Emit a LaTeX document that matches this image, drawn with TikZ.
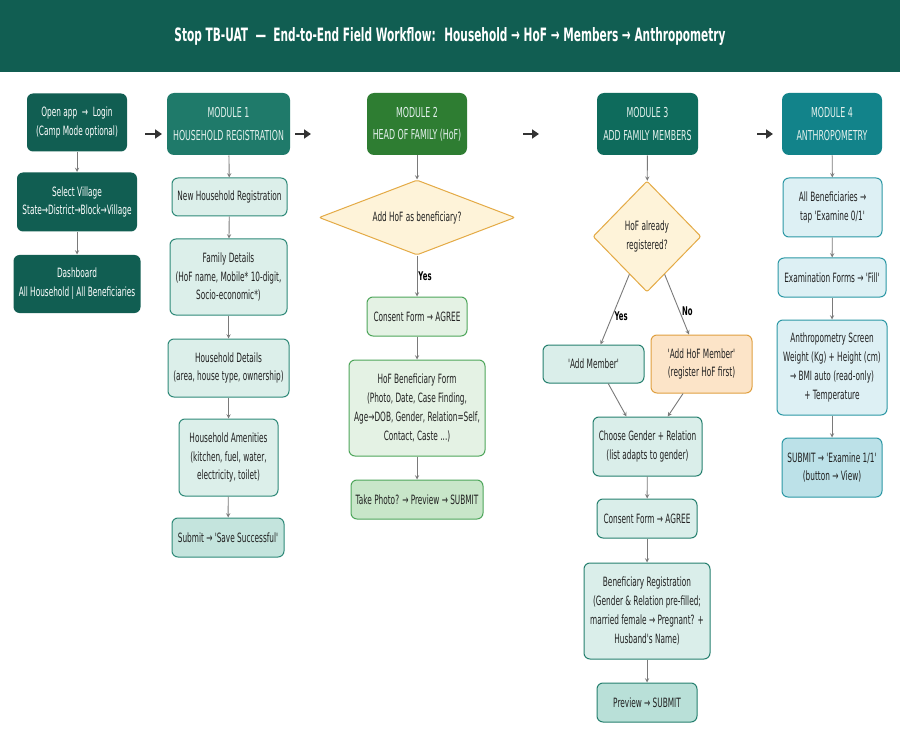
\documentclass[tikz,border=0pt]{standalone}
\usepackage{fontspec}
\newfontfamily\flowfont{DejaVu Sans}[FakeStretch=0.575]
\usetikzlibrary{shapes.geometric}
\usetikzlibrary{arrows.meta}

\definecolor{titlebg}{HTML}{115E52}
\definecolor{m1col}{HTML}{1F7A6A}
\definecolor{m2col}{HTML}{2E7D32}
\definecolor{m3col}{HTML}{0E6B5C}
\definecolor{m4col}{HTML}{12838A}
\definecolor{m1fill}{HTML}{DCEFEA}
\definecolor{m1line}{HTML}{2F8A79}
\definecolor{m1end}{HTML}{C4E4DD}
\definecolor{m2fill}{HTML}{E4F2E4}
\definecolor{m2line}{HTML}{4EA65B}
\definecolor{m2end}{HTML}{C8E6C9}
\definecolor{m3fill}{HTML}{DAEEEA}
\definecolor{m3line}{HTML}{26806F}
\definecolor{m3end}{HTML}{B9E0D8}
\definecolor{peachfill}{HTML}{FCE4C8}
\definecolor{peachline}{HTML}{E0A040}
\definecolor{decfill}{HTML}{FEF3D9}
\definecolor{decline}{HTML}{E4AA45}
\definecolor{m4fill}{HTML}{DDF0F4}
\definecolor{m4line}{HTML}{2C98A5}
\definecolor{m4end}{HTML}{BCE1E8}
\definecolor{flowgray}{HTML}{7A7A7A}
\definecolor{boxtext}{HTML}{222222}
\definecolor{headtext}{HTML}{E4F1ED}

\begin{document}
\begin{tikzpicture}[x=1pt, y=-1pt, >=stealth,
        box/.style={draw, rounded corners=6pt, line width=1pt, align=center, text=boxtext, inner sep=2pt, font=\flowfont\fontsize{12.8}{18.8}\selectfont},
        head/.style={box, draw=none, rounded corners=7pt, text=headtext, font=\flowfont\fontsize{13.7}{22.3}\selectfont},
        start/.style={box, draw=none, fill=titlebg, text=white},
        dec/.style={diamond, draw=decline, fill=decfill, line width=1pt, rounded corners=2pt, align=center, text=boxtext, inner sep=1pt, font=\flowfont\fontsize{12.8}{18.8}\selectfont},
        mone/.style={box, draw=m1line, fill=m1fill},
        mtwo/.style={box, draw=m2line, fill=m2fill},
        mthree/.style={box, draw=m3line, fill=m3fill},
        mfour/.style={box, draw=m4line, fill=m4fill},
        lab/.style={inner sep=2pt, text=black, font=\flowfont\fontsize{12}{14}\bfseries},
        flow/.style={->, draw=flowgray, line width=0.9pt},
        bigarrow/.style={-{Triangle[length=7pt,width=9pt]}, draw=black!80, line width=2.6pt}]

        \useasboundingbox (0,0) rectangle (900,754);
        \fill[white] (0,0) rectangle (900,754);

        % Title bar
        \fill[titlebg] (0,0) rectangle (900,72);
        \node[text=white, font=\flowfont\fontsize{18.4}{22}\bfseries] (title) at (450,36)
            {Stop TB-UAT \ — \ End-to-End Field Workflow: \ Household → HoF → Members → Anthropometry};

        % Start column
        \node[start, minimum width=100, minimum height=58] (open) at (77,122.5) {Open app \ → \ Login\\(Camp Mode optional)};
        \node[start, minimum width=120, minimum height=59] (vill) at (77,202) {Select Village\\State→District→Block→Village};
        \node[start, minimum width=127, minimum height=58] (dash) at (77,284) {Dashboard\\All Household | All Beneficiaries};
        \draw[flow] (open) -- (vill);
        \draw[flow] (vill) -- (dash);

        % Module 1
        \node[head, fill=m1col, minimum width=123, minimum height=62] (m1) at (228.5,124) {MODULE 1\\HOUSEHOLD REGISTRATION};
        \node[mone, minimum width=115, minimum height=38] (newhh) at (229.5,197) {New Household Registration};
        \node[mone, minimum width=117, minimum height=76] (famdet) at (228.5,277) {Family Details\\(HoF name, Mobile* 10-digit,\\Socio-economic*)};
        \node[mone, minimum width=121, minimum height=58] (hhdet) at (228.5,368) {Household Details\\(area, house type, ownership)};
        \node[mone, minimum width=99, minimum height=77] (amen) at (228.5,457.5) {Household Amenities\\(kitchen, fuel, water,\\electricity, toilet)};
        \node[mone, fill=m1end, minimum width=112, minimum height=39] (save) at (228,537.5) {Submit → 'Save Successful'};
        \draw[flow] (m1) -- (newhh);
        \draw[flow] (newhh) -- (famdet);
        \draw[flow] (famdet) -- (hhdet);
        \draw[flow] (hhdet) -- (amen);
        \draw[flow] (amen) -- (save);

        % Module 2
        \node[head, fill=m2col, minimum width=100, minimum height=62] (m2) at (417,124) {MODULE 2\\HEAD OF FAMILY (HoF)};
        \node[dec, aspect=2.6, minimum width=196, minimum height=75] (addhof) at (417,217.5) {Add HoF as beneficiary?};
        \node[mtwo, minimum width=100, minimum height=39] (consent2) at (417,316.5) {Consent Form → AGREE};
        \node[mtwo, minimum width=136, minimum height=96] (hofform) at (417,408) {HoF Beneficiary Form\\(Photo, Date, Case Finding,\\Age→DOB, Gender, Relation=Self,\\Contact, Caste ...)};
        \node[mtwo, fill=m2end, minimum width=132, minimum height=39] (photo) at (417,499.5) {Take Photo? → Preview → SUBMIT};
        \draw[flow] (m2) -- (addhof);
        \draw[flow] (addhof) -- node[lab, right, inner sep=1pt] (yes2) {Yes} (consent2);
        \draw[flow] (consent2) -- (hofform);
        \draw[flow] (hofform) -- (photo);

        % Module 3
        \node[head, fill=m3col, minimum width=101, minimum height=62] (m3) at (647.5,124) {MODULE 3\\ADD FAMILY MEMBERS};
        \node[dec, aspect=1, minimum width=108, minimum height=111] (hofreg) at (647,236.5) {HoF already\\registered?};
        \node[mthree, minimum width=101, minimum height=38] (addmem) at (593.5,364) {'Add Member'};
        \node[box, draw=peachline, fill=peachfill, minimum width=101, minimum height=58] (addhofmem) at (701.5,364) {'Add HoF Member'\\(register HoF first)};
        \node[mthree, minimum width=109, minimum height=59] (gender) at (647.5,446.5) {Choose Gender + Relation\\(list adapts to gender)};
        \node[mthree, minimum width=100, minimum height=39] (consent3) at (647,518.5) {Consent Form → AGREE};
        \node[mthree, minimum width=126, minimum height=96] (benreg) at (647,611) {Beneficiary Registration\\(Gender \& Relation pre-filled;\\married female → Pregnant? +\\Husband's Name)};
        \node[mthree, fill=m3end, minimum width=100, minimum height=39] (preview) at (647,702.5) {Preview → SUBMIT};
        \draw[flow] (m3) -- (hofreg);
        \draw[flow] (hofreg.245) -- node[lab, pos=0.6, anchor=west] (yes3) {Yes} (addmem.70);
        \draw[flow] (hofreg.295) -- node[lab, pos=0.62, anchor=west] (no3) {No} (addhofmem.113);
        \draw[flow] (addmem.-53) -- (gender.125);
        \draw[flow] (addhofmem.-122) -- (gender.56);
        \draw[flow] (gender) -- (consent3);
        \draw[flow] (consent3) -- (benreg);
        \draw[flow] (benreg) -- (preview);

        % Module 4
        \node[head, fill=m4col, minimum width=100, minimum height=62] (m4) at (832,124) {MODULE 4\\ANTHROPOMETRY};
        \node[mfour, minimum width=99, minimum height=59] (allben) at (832.5,207.5) {All Beneficiaries →\\tap 'Examine 0/1'};
        \node[mfour, minimum width=108, minimum height=39] (exam) at (832,277.5) {Examination Forms → 'Fill'};
        \node[mfour, minimum width=110, minimum height=95] (anthro) at (832,367.5) {Anthropometry Screen\\Weight (Kg) + Height (cm)\\→ BMI auto (read-only)\\+ Temperature};
        \node[mfour, fill=m4end, minimum width=100, minimum height=59] (submit4) at (832,467.5) {SUBMIT → 'Examine 1/1'\\(button → View)};
        \draw[flow] (m4) -- (allben);
        \draw[flow] (allben) -- (exam);
        \draw[flow] (exam) -- (anthro);
        \draw[flow] (anthro) -- (submit4);

        % Arrows between columns
        \coordinate (go1a) at (145,134); \coordinate (go1b) at (162,134);
        \coordinate (go2a) at (295,134); \coordinate (go2b) at (311,134);
        \coordinate (go3a) at (523,134); \coordinate (go3b) at (539,134);
        \coordinate (go4a) at (757,134); \coordinate (go4b) at (773,134);
        \draw[bigarrow] (go1a) -- (go1b);
        \draw[bigarrow] (go2a) -- (go2b);
        \draw[bigarrow] (go3a) -- (go3b);
        \draw[bigarrow] (go4a) -- (go4b);
\end{tikzpicture}
\end{document}
